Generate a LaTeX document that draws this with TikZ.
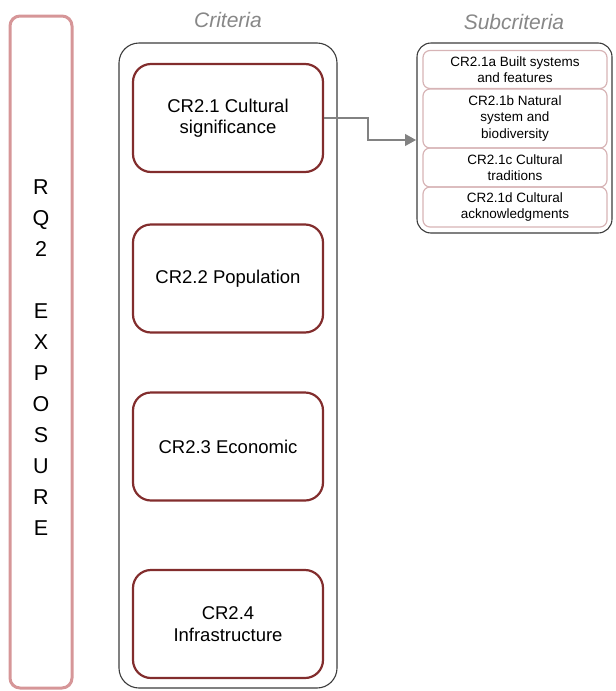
\documentclass[tikz,border=0pt]{standalone}
\usepackage{fontspec}
\setmainfont{Liberation Sans}
\usetikzlibrary{arrows.meta}
\definecolor{barpink}{RGB}{214,150,152}
\definecolor{critred}{RGB}{130,45,45}
\definecolor{subpink}{RGB}{215,180,182}
\definecolor{labgray}{RGB}{135,135,135}
\definecolor{outline}{RGB}{60,60,60}
\definecolor{arrgray}{RGB}{130,130,130}
\tikzset{
  critbox/.style={draw=critred, line width=2.2pt, rounded corners=18pt, minimum width=190pt, minimum height=108pt, align=center, font=\fontsize{18.5}{21.5}\selectfont, inner sep=0pt},
  subbox/.style={draw=subpink, line width=1.2pt, rounded corners=7pt, minimum width=184pt, align=center, font=\fontsize{13.5}{16.5}\selectfont, inner sep=0pt},
  headlab/.style={text=labgray, font=\fontsize{21}{24}\selectfont\itshape},
  frame/.style={draw=outline, line width=1.1pt, rounded corners=20pt},
}
\begin{document}
\begin{tikzpicture}[x=1pt,y=-1pt]
\useasboundingbox (0,0) rectangle (616,691);
% left bar
\draw[draw=barpink, line width=3pt, rounded corners=10pt] (10,16) rectangle (72,688);
\node[align=center, font=\fontsize{21.5}{31}\selectfont] (rq) at (41,358) {R\\Q\\2\\[31pt]E\\X\\P\\O\\S\\U\\R\\E};
% criteria frame
\node[headlab] (crit) at (228,20) {Criteria};
\draw[frame] (119,43) rectangle (337,688);
\node[critbox] (c1) at (228,118) {CR2.1 Cultural\\significance};
\node[critbox] (c2) at (228,278.5) {CR2.2 Population};
\node[critbox] (c3) at (228,446.5) {CR2.3 Economic};
\node[critbox] (c4) at (228,624) {CR2.4\\Infrastructure};
% subcriteria frame
\node[headlab] (subl) at (514,22) {Subcriteria};
\draw[frame, rounded corners=14pt] (417,43) rectangle (612,233);
\node[subbox, minimum height=38pt] (s1) at (515,69.5) {CR2.1a Built systems\\and features};
\node[subbox, minimum height=59pt] (s2) at (515,118.5) {CR2.1b Natural\\system and\\biodiversity};
\node[subbox, minimum height=39pt] (s3) at (515,167.5) {CR2.1c Cultural\\traditions};
\node[subbox, minimum height=40pt] (s4) at (515,207) {CR2.1d Cultural\\acknowledgments};
% connector
\coordinate (tip) at (416,140);
\draw[arrgray, line width=1.1pt, -{Triangle[length=11pt,width=12pt]}] (c1.east) -- (368,118) -- (368,140) -- (tip);
\end{tikzpicture}
\end{document}
